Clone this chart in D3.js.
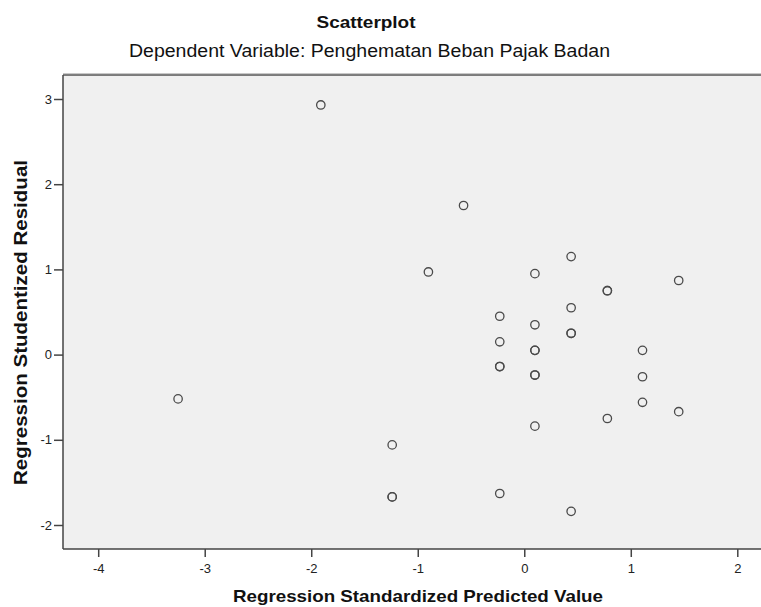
<!DOCTYPE html>
<html>
<head>
<meta charset="utf-8">
<script src="https://cdn.jsdelivr.net/npm/d3@7"></script>
<style>
  html, body { margin: 0; padding: 0; background: #ffffff; }
  svg { display: block; font-family: "Liberation Sans", Arial, sans-serif; }
</style>
</head>
<body>
<svg id="chart" width="761" height="607"></svg>
<script>
// Data (duplicates appear as darker, overlapping circles)
const predicted = [-3.25, -1.91, -1.24, -1.24, -1.24, -0.90, -0.57, -0.23, -0.23, -0.23, -0.23, -0.23,
                   0.10, 0.10, 0.10, 0.10, 0.10, 0.10, 0.10, 0.44, 0.44, 0.44, 0.44, 0.44,
                   0.78, 0.78, 0.78, 1.11, 1.11, 1.11, 1.45, 1.45];
const residual  = [-0.52, 2.93, -1.06, -1.67, -1.67, 0.97, 1.75, 0.45, 0.15, -0.14, -0.14, -1.63,
                   0.95, 0.35, 0.05, 0.05, -0.24, -0.24, -0.84, 1.15, 0.55, 0.25, 0.25, -1.84,
                   0.75, 0.75, -0.75, 0.05, -0.26, -0.56, 0.87, -0.67];
const xTicks = [-4, -3, -2, -1, 0, 1, 2];
const yTicks = [-2, -1, 0, 1, 2, 3];

const title = "Scatterplot";
const subtitle = "Dependent Variable: Penghematan Beban Pajak Badan";
const xTitle = "Regression Standardized Predicted Value";
const yTitle = "Regression Studentized Residual";

const svg = d3.select("#chart");
const plot = { left: 63, right: 775, top: 75, bottom: 549 };

const x = d3.scaleLinear().domain([-4, 2]).range([98.2, 737.3]);
const y = d3.scaleLinear().domain([-2, 3]).range([525, 99]);

// plot background
svg.append("rect")
  .attr("x", plot.left).attr("y", plot.top)
  .attr("width", plot.right - plot.left).attr("height", plot.bottom - plot.top)
  .attr("fill", "#f0f0f0");

// top frame line
svg.append("line")
  .attr("x1", plot.left).attr("x2", plot.right)
  .attr("y1", plot.top - 1.5).attr("y2", plot.top - 1.5)
  .attr("stroke", "#c8c8c8").attr("stroke-width", 1);
svg.append("line")
  .attr("x1", plot.left).attr("x2", plot.right)
  .attr("y1", plot.top).attr("y2", plot.top)
  .attr("stroke", "#555").attr("stroke-width", 1.5);

const fmt = d => String(d);

// axes
const xAxis = svg.append("g")
  .attr("transform", `translate(0,${plot.bottom})`)
  .call(d3.axisBottom(x).tickValues(xTicks).tickSize(8).tickPadding(4).tickFormat(fmt));
const yAxis = svg.append("g")
  .attr("transform", `translate(${plot.left},0)`)
  .call(d3.axisLeft(y).tickValues(yTicks).tickSize(9).tickPadding(2).tickFormat(fmt));

[xAxis, yAxis].forEach(a => {
  a.select(".domain").remove();
  a.selectAll(".tick line").attr("stroke", "#444").attr("stroke-width", 1.5);
  a.selectAll(".tick text").attr("fill", "#222").attr("font-size", 13)
    .attr("font-family", "'Liberation Sans', Arial, sans-serif");
});
xAxis.selectAll(".tick text").attr("dy", "0.9em");

// axis lines
svg.append("line")
  .attr("x1", plot.left).attr("x2", plot.right)
  .attr("y1", plot.bottom).attr("y2", plot.bottom)
  .attr("stroke", "#444").attr("stroke-width", 1.5);
svg.append("line")
  .attr("x1", plot.left).attr("x2", plot.left)
  .attr("y1", plot.top).attr("y2", plot.bottom)
  .attr("stroke", "#444").attr("stroke-width", 1.5);

// points
svg.append("g").selectAll("circle")
  .data(predicted.map((p, i) => ({ p, r: residual[i] })))
  .join("circle")
  .attr("cx", d => x(d.p))
  .attr("cy", d => y(d.r))
  .attr("r", 4.2)
  .attr("fill", "none")
  .attr("stroke", "#4a4a4a")
  .attr("stroke-width", 1.3);

// titles
svg.append("text")
  .attr("x", 366).attr("y", 28)
  .attr("text-anchor", "middle")
  .attr("font-size", 17).attr("font-weight", "bold").attr("fill", "#111")
  .attr("textLength", 99).attr("lengthAdjust", "spacingAndGlyphs")
  .text(title);

svg.append("text")
  .attr("x", 369.5).attr("y", 57)
  .attr("text-anchor", "middle")
  .attr("font-size", 17.5).attr("fill", "#111")
  .attr("textLength", 481).attr("lengthAdjust", "spacingAndGlyphs")
  .text(subtitle);

svg.append("text")
  .attr("x", 418).attr("y", 602)
  .attr("text-anchor", "middle")
  .attr("font-size", 17).attr("font-weight", "bold").attr("fill", "#111")
  .attr("textLength", 370).attr("lengthAdjust", "spacingAndGlyphs")
  .text(xTitle);

svg.append("text")
  .attr("transform", `translate(27,322.5) rotate(-90)`)
  .attr("text-anchor", "middle")
  .attr("font-size", 17.5).attr("font-weight", "bold").attr("fill", "#111")
  .attr("textLength", 325).attr("lengthAdjust", "spacingAndGlyphs")
  .text(yTitle);
</script>
</body>
</html>
